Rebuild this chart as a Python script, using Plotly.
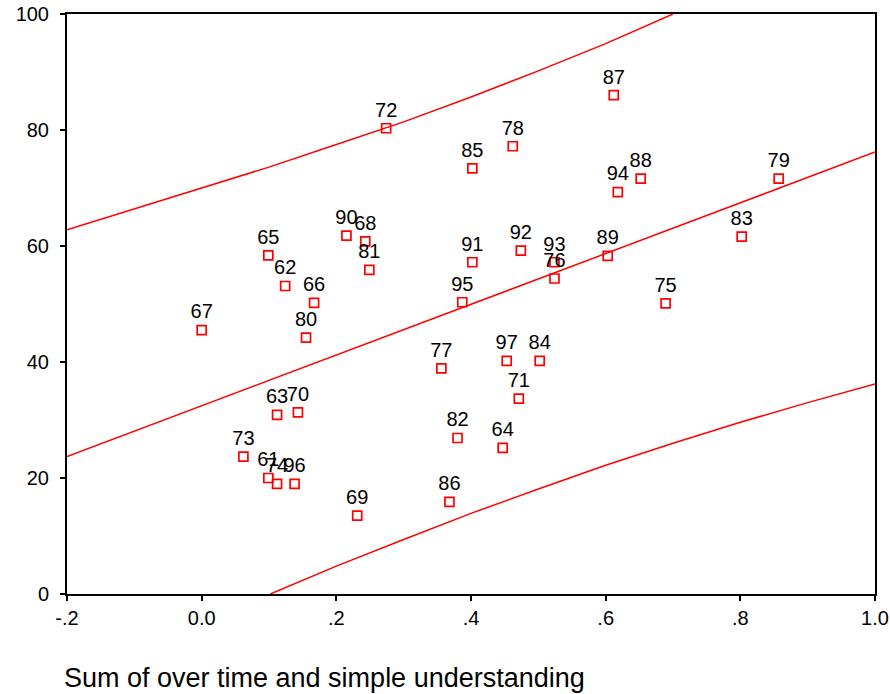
import plotly.graph_objects as go

case_ids = ["61", "62", "63", "64", "65", "66", "67", "68", "69", "70",
            "71", "72", "73", "74", "75", "76", "77", "78", "79", "80",
            "81", "82", "83", "84", "85", "86", "87", "88", "89", "90",
            "91", "92", "93", "94", "95", "96", "97"]
x_vals = [0.099, 0.124, 0.112, 0.447, 0.099, 0.167, 0.000, 0.243, 0.231, 0.143,
          0.471, 0.274, 0.062, 0.112, 0.689, 0.524, 0.356, 0.462, 0.857, 0.155,
          0.249, 0.380, 0.802, 0.502, 0.402, 0.368, 0.612, 0.652, 0.603, 0.215,
          0.402, 0.474, 0.524, 0.618, 0.387, 0.138, 0.453]
y_vals = [20.0, 53.1, 30.9, 25.2, 58.4, 50.2, 45.5, 60.8, 13.5, 31.3,
          33.7, 80.3, 23.7, 19.0, 50.1, 54.4, 38.9, 77.2, 71.6, 44.2,
          55.9, 26.9, 61.6, 40.2, 73.4, 15.9, 86.0, 71.6, 58.3, 61.8,
          57.2, 59.2, 57.2, 69.3, 50.3, 19.0, 40.2]

# Fit line
fit_x = [-0.2, 1.0]
fit_y = [23.7, 76.2]

# Upper prediction band
upper_x = [-0.2, -0.1, 0.0, 0.1, 0.2, 0.3, 0.4, 0.5, 0.6, 0.7]
upper_y = [62.8, 66.4, 69.9, 73.6, 77.5, 81.4, 85.7, 90.2, 94.9, 100.0]

# Lower prediction band
lower_x = [0.102, 0.2, 0.3, 0.4, 0.5, 0.6, 0.7, 0.8, 0.9, 1.0]
lower_y = [0.0, 4.8, 9.4, 13.9, 18.1, 22.2, 26.0, 29.6, 33.0, 36.2]

x_ticks = [-0.2, 0.0, 0.2, 0.4, 0.6, 0.8, 1.0]
x_tick_text = ["-.2", "0.0", ".2", ".4", ".6", ".8", "1.0"]
y_ticks = [0, 20, 40, 60, 80, 100]
y_tick_text = ["0", "20", "40", "60", "80", "100"]

x_title = "Sum of over time and simple understanding"

RED = "#ff0000"
FONT = "Liberation Sans, Arial, sans-serif"

fig = go.Figure()
for lx, ly in [(upper_x, upper_y), (lower_x, lower_y), (fit_x, fit_y)]:
    fig.add_trace(go.Scatter(x=lx, y=ly, mode="lines",
                             line=dict(color=RED, width=1.5),
                             hoverinfo="skip", showlegend=False))

fig.add_trace(go.Scatter(
    x=x_vals, y=y_vals, mode="markers+text", text=case_ids,
    textposition="top center",
    textfont=dict(family=FONT, size=20, color="black"),
    marker=dict(symbol="square-open", size=9, color=RED, line=dict(width=1.7, color=RED)),
    showlegend=False, cliponaxis=False,
))

axis_common = dict(showgrid=False, zeroline=False, showline=True, linecolor="black",
                   linewidth=2, mirror=True, ticks="outside", ticklen=5, tickwidth=1.5,
                   tickcolor="black", tickfont=dict(size=20), automargin=False)

fig.update_layout(
    width=890, height=694,
    margin=dict(l=67, r=15, t=14, b=100),
    paper_bgcolor="white", plot_bgcolor="white",
    font=dict(family=FONT, size=16, color="black"),
    xaxis=dict(range=[-0.2, 1.0], tickvals=x_ticks, ticktext=x_tick_text, **axis_common),
    yaxis=dict(range=[0, 100], tickvals=y_ticks, ticktext=y_tick_text,
               ticklabelstandoff=7, **axis_common),
    annotations=[dict(text=x_title, xref="paper", yref="paper", x=-0.006, y=-0.145,
                      xanchor="left", yanchor="middle", showarrow=False,
                      font=dict(family=FONT, size=27, color="black"))],
)

fig.write_html("out.html", config={"displayModeBar": False},
               post_script="document.body.style.margin='0';document.body.style.overflow='hidden';")
